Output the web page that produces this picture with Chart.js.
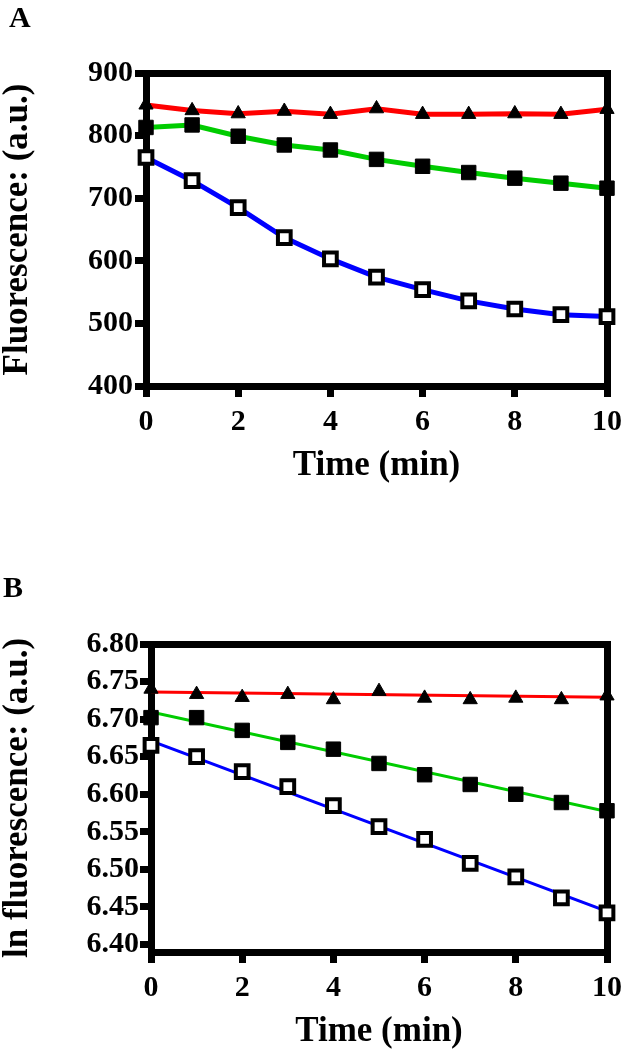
<!DOCTYPE html>
<html>
<head>
<meta charset="utf-8">
<script src="https://cdn.jsdelivr.net/npm/chart.js@4.4.0/dist/chart.umd.min.js"></script>
<style>
  body { margin: 0; background: #fff; width: 629px; height: 1050px; position: relative; overflow: hidden; }
  canvas { position: absolute; left: 0; }
  .panel-label { position: absolute; font: bold 30px 'Liberation Serif', 'Times New Roman', serif; line-height: 1; color: #000; }
</style>
</head>
<body>
<canvas id="chartA" width="629" height="484" style="top:0"></canvas>
<canvas id="chartB" width="629" height="490" style="top:560px"></canvas>
<div class="panel-label" style="left:9px; top:2px">A</div>
<div class="panel-label" style="left:3px; top:572px">B</div>
<script>
// time points (min)
const time = [0, 1, 2, 3, 4, 5, 6, 7, 8, 9, 10];
const xTicks = [0, 2, 4, 6, 8, 10];

// panel A: raw fluorescence
const yTicksA = [400, 500, 600, 700, 800, 900];
const redA = [849, 840, 835, 839, 834, 843, 834, 834, 835, 834, 842];
const greenA = [813, 817, 799, 785, 777, 762, 751, 741, 732, 724, 716];
const blueA = [765, 728, 685, 637, 603, 574, 554, 536, 523, 514, 511];

// panel B: ln fluorescence, points + fitted lines
const yTicksB = [6.40, 6.45, 6.50, 6.55, 6.60, 6.65, 6.70, 6.75, 6.80];
const redB = [6.740, 6.733, 6.729, 6.733, 6.726, 6.737, 6.728, 6.726, 6.728, 6.726, 6.731];
const greenB = [6.702, 6.702, 6.685, 6.669, 6.660, 6.641, 6.626, 6.613, 6.600, 6.589, 6.578];
const blueB = [6.665, 6.650, 6.630, 6.610, 6.585, 6.557, 6.540, 6.508, 6.490, 6.462, 6.442];
const fitTime = [0, 10];
const redFitB = [6.736, 6.729];
const greenFitB = [6.7095, 6.577];
const blueFitB = [6.671, 6.444];

Chart.defaults.font.family = "'Liberation Serif', 'Times New Roman', serif";
Chart.defaults.color = '#000';

function toPoints(xs, ys) {
    return xs.map((x, i) => ({ x: x, y: ys[i] }));
}

function frameAxis(position, min, max) {
    return {
        type: 'linear', position: position, min: min, max: max,
        ticks: { display: false },
        grid: { display: false, drawTicks: false, lineWidth: 7 },
        border: { width: 7, color: '#000' }
    };
}

function buildOptions(p) {
    const gridOpts = { drawOnChartArea: false, tickLength: 11, tickWidth: 7, tickColor: '#000', lineWidth: 7, color: '#000' };
    return {
        responsive: false,
        animation: false,
        layout: { padding: { top: p.top, right: p.right, left: 0, bottom: 0 } },
        plugins: { legend: { display: false }, tooltip: { enabled: false } },
        scales: {
            x: {
                type: 'linear', position: 'bottom', min: 0, max: 10,
                afterBuildTicks: s => { s.ticks = xTicks.map(v => ({ value: v })); },
                afterFit: s => { s.height = 98; },
                ticks: { padding: 7, autoSkip: false, maxRotation: 0, color: '#000',
                         font: { size: 30, weight: 'bold' } },
                grid: gridOpts,
                border: { width: 7, color: '#000' },
                title: { display: true, text: 'Time (min)', color: '#000', padding: 0,
                         font: { size: 35, weight: 'bold', lineHeight: 1.05 } }
            },
            y: {
                type: 'linear', position: 'left', min: p.yMin, max: p.yMax,
                afterBuildTicks: s => { s.ticks = p.yTicks.map(v => ({ value: v })); },
                afterFit: s => { s.width = p.left; },
                ticks: { padding: p.tickPad, autoSkip: false, color: '#000',
                         font: { size: 30, weight: 'bold', lineHeight: 1 },
                         callback: v => Number(v).toFixed(p.decimals) },
                grid: gridOpts,
                border: { width: 7, color: '#000' },
                title: { display: true, text: p.yTitle, color: '#000', padding: 0,
                         font: { size: 35, weight: 'bold', lineHeight: 1 } }
            },
            x2: frameAxis('top', 0, 10),
            y2: frameAxis('right', p.yMin, p.yMax)
        }
    };
}

const openSquare = { pointStyle: 'rect', pointRadius: 9, pointBackgroundColor: '#fff', pointBorderColor: '#000', pointBorderWidth: 4 };
const filledSquare = { pointStyle: 'rect', pointRadius: 10.2, pointBackgroundColor: '#000', pointBorderColor: '#000', pointBorderWidth: 1 };
const triangle = { pointStyle: 'triangle', pointRadius: 8.2, pointBackgroundColor: '#000', pointBorderColor: '#000', pointBorderWidth: 1 };

new Chart(document.getElementById('chartA'), {
    type: 'scatter',
    data: {
        datasets: [
            Object.assign({ data: toPoints(time, redA), showLine: true, borderColor: '#ff0000', borderWidth: 5, clip: false }, triangle),
            Object.assign({ data: toPoints(time, greenA), showLine: true, borderColor: '#00cc00', borderWidth: 5, clip: false }, filledSquare),
            Object.assign({ data: toPoints(time, blueA), showLine: true, borderColor: '#0000ff', borderWidth: 5, clip: false }, openSquare)
        ]
    },
    options: buildOptions({ top: 73, right: 16, left: 146, yMin: 400, yMax: 900, yTicks: yTicksA,
                            tickPad: 2, decimals: 0, yTitle: 'Fluorescence: (a.u.)' })
});

new Chart(document.getElementById('chartB'), {
    type: 'scatter',
    data: {
        datasets: [
            Object.assign({ data: toPoints(time, redB), order: 1, clip: false }, triangle),
            Object.assign({ data: toPoints(time, greenB), order: 1, clip: false }, filledSquare),
            Object.assign({ data: toPoints(time, blueB), order: 1, clip: false }, openSquare),
            { data: toPoints(fitTime, redFitB), order: 2, showLine: true, pointRadius: 0, borderColor: '#ff0000', borderWidth: 3 },
            { data: toPoints(fitTime, greenFitB), order: 2, showLine: true, pointRadius: 0, borderColor: '#00cc00', borderWidth: 3 },
            { data: toPoints(fitTime, blueFitB), order: 2, showLine: true, pointRadius: 0, borderColor: '#0000ff', borderWidth: 3 }
        ]
    },
    options: buildOptions({ top: 84, right: 17, left: 151, yMin: 6.39, yMax: 6.80, yTicks: yTicksB,
                            tickPad: 1, decimals: 2, yTitle: 'ln fluorescence: (a.u.)' })
});
</script>
</body>
</html>
